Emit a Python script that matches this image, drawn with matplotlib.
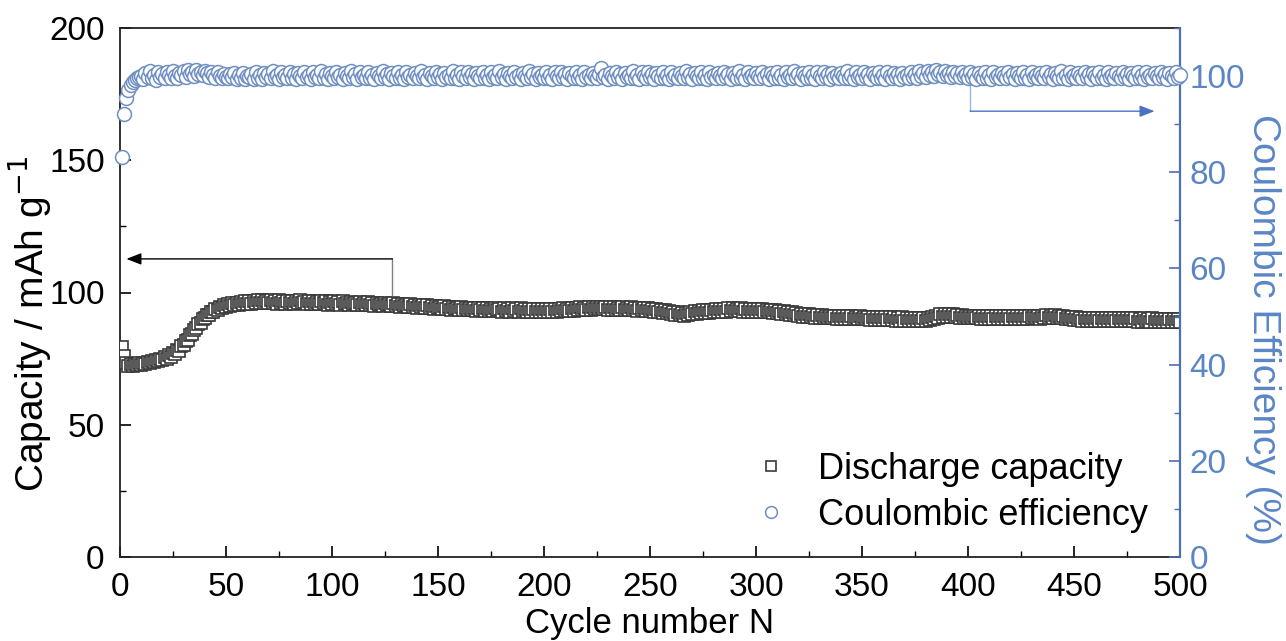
import matplotlib
matplotlib.use("Agg")
import matplotlib.pyplot as plt
from matplotlib.ticker import MultipleLocator

plt.rcParams['font.family'] = ['Liberation Sans', 'DejaVu Sans']

# ---------------- data ----------------
cycles = list(range(1, 501))

capacity = [
    79.5, 76.0, 73.2, 72.4, 72.9, 72.1, 73.0, 72.5, 73.3, 72.6,
    73.5, 72.9, 73.8, 73.2, 74.2, 73.6, 74.6, 74.0, 75.0, 74.4,
    75.6, 75.0, 76.4, 75.8, 77.3, 76.7, 78.4, 78.0, 79.8, 80.2,
    81.7, 82.1, 83.9, 84.3, 86.0, 86.4, 88.1, 88.4, 89.9, 90.3,
    91.5, 91.6, 92.8, 92.6, 93.8, 93.4, 94.6, 94.0, 95.1, 94.5,
    95.5, 94.8, 95.9, 95.1, 96.2, 95.3, 96.4, 95.5, 96.6, 95.7,
    96.8, 95.8, 96.9, 95.9, 97.0, 96.0, 97.1, 95.9, 96.9, 96.2,
    97.2, 96.0, 96.8, 95.8, 97.0, 96.1, 96.7, 95.7, 96.9, 96.0,
    96.6, 95.6, 96.8, 95.9, 97.1, 96.0, 96.5, 95.6, 96.9, 95.8,
    96.7, 95.7, 96.4, 95.5, 96.8, 95.9, 96.6, 95.4, 96.5, 95.7,
    96.8, 95.6, 96.3, 95.4, 96.6, 95.5, 96.2, 95.3, 96.5, 95.6,
    96.1, 95.2, 96.4, 95.4, 96.0, 95.1, 96.3, 95.3, 95.9, 95.0,
    96.2, 95.2, 95.8, 94.9, 96.0, 95.1, 95.7, 94.8, 95.9, 95.0,
    95.6, 94.7, 95.8, 94.8, 95.4, 94.5, 95.6, 94.6, 95.3, 94.3,
    95.4, 94.4, 95.1, 94.1, 95.2, 94.2, 94.9, 93.9, 95.0, 94.0,
    94.7, 93.8, 94.8, 93.8, 94.5, 93.5, 94.6, 93.6, 94.3, 93.3,
    94.4, 93.4, 94.2, 93.2, 94.3, 93.3, 94.1, 93.1, 94.2, 93.2,
    94.0, 93.0, 94.1, 93.1, 93.9, 92.9, 94.2, 93.2, 93.8, 92.8,
    94.1, 93.1, 93.9, 92.8, 94.0, 93.0, 93.7, 92.7, 94.0, 92.9,
    93.8, 92.7, 93.9, 92.8, 93.6, 92.6, 93.9, 92.8, 93.7, 92.6,
    93.8, 92.7, 93.6, 92.6, 93.9, 92.8, 93.7, 92.9, 94.0, 92.9,
    93.9, 93.0, 94.2, 93.1, 94.0, 93.2, 94.4, 93.3, 94.2, 93.4,
    94.5, 93.5, 94.4, 93.6, 94.7, 93.7, 94.5, 93.6, 94.6, 93.5,
    94.4, 93.4, 94.6, 93.5, 94.3, 93.3, 94.5, 93.4, 94.2, 93.2,
    94.4, 93.3, 94.1, 93.1, 94.3, 93.2, 94.0, 93.0, 94.1, 92.9,
    93.9, 92.8, 93.7, 92.6, 93.5, 92.4, 93.3, 92.2, 93.0, 91.9,
    92.8, 91.6, 92.5, 91.4, 92.3, 91.2, 92.2, 91.4, 92.6, 91.8,
    92.9, 92.0, 93.1, 92.1, 93.2, 92.2, 93.4, 92.4, 93.5, 92.5,
    93.6, 92.6, 93.8, 92.7, 93.9, 92.8, 94.0, 92.9, 94.0, 92.9,
    93.9, 92.9, 94.0, 92.8, 93.9, 92.8, 93.8, 92.8, 93.9, 92.7,
    93.7, 92.7, 93.8, 92.6, 93.5, 92.5, 93.4, 92.3, 93.2, 92.1,
    93.0, 91.9, 92.9, 91.8, 92.7, 91.6, 92.5, 91.4, 92.3, 91.2,
    92.0, 90.9, 91.9, 90.8, 91.7, 90.6, 91.6, 90.5, 91.5, 90.4,
    91.4, 90.3, 91.3, 90.2, 91.2, 90.2, 91.1, 90.1, 91.2, 90.1,
    91.1, 90.0, 91.0, 90.0, 91.1, 89.9, 90.9, 89.9, 91.0, 89.8,
    90.9, 89.8, 90.8, 89.7, 90.9, 89.7, 90.7, 89.6, 90.8, 89.6,
    90.7, 89.5, 90.6, 89.5, 90.7, 89.4, 90.5, 89.4, 90.6, 89.3,
    90.5, 89.3, 90.4, 89.2, 90.5, 89.2, 90.3, 89.2, 90.4, 89.3,
    90.5, 89.5, 90.8, 90.0, 91.3, 90.5, 91.7, 90.7, 91.8, 90.8,
    91.8, 90.7, 91.7, 90.6, 91.5, 90.5, 91.4, 90.4, 91.3, 90.3,
    91.2, 90.2, 91.3, 90.2, 91.1, 90.1, 91.2, 90.1, 91.1, 90.0,
    91.2, 90.1, 91.0, 90.0, 91.1, 90.0, 91.0, 89.9, 91.1, 90.0,
    91.0, 90.0, 91.1, 90.1, 91.2, 90.1, 91.1, 90.0, 91.2, 90.2,
    91.3, 90.2, 91.2, 90.1, 91.3, 90.3, 91.4, 90.3, 91.3, 90.2,
    91.4, 90.4, 91.3, 90.2, 91.1, 90.0, 90.9, 89.8, 90.7, 89.6,
    90.6, 89.5, 90.5, 89.4, 90.4, 89.3, 90.4, 89.3, 90.3, 89.3,
    90.4, 89.3, 90.3, 89.2, 90.4, 89.3, 90.2, 89.2, 90.3, 89.2,
    90.2, 89.1, 90.3, 89.2, 90.2, 89.1, 90.3, 89.1, 90.2, 89.0,
    90.1, 89.0, 90.2, 89.1, 90.1, 89.0, 90.2, 89.0, 90.1, 88.9,
    90.0, 88.9, 90.1, 89.0, 90.0, 88.9, 90.1, 88.9, 90.0, 88.8,
]

coulombic_eff = [
    83.2, 92.1, 95.4, 97.1, 98.1, 98.7, 99.2, 99.5, 99.8, 100.0,
    99.4, 100.6, 99.8, 101.0, 99.6, 100.3, 99.2, 100.8, 99.9, 100.5,
    99.5, 100.9, 100.2, 99.7, 101.1, 100.0, 99.6, 100.7, 100.3, 101.0,
    99.9, 101.2, 100.4, 100.8, 100.1, 101.3, 100.5, 100.9, 100.2, 101.0,
    100.6, 99.8, 100.9, 100.3, 99.7, 100.8, 100.1, 99.6, 100.5, 99.9,
    99.5, 100.4, 99.8, 100.7, 99.4, 100.2, 99.7, 100.6, 99.3, 100.1,
    99.8, 100.5, 99.4, 100.9, 99.6, 100.2, 99.3, 100.7, 99.9, 100.4,
    99.5, 101.0, 99.8, 100.3, 99.4, 100.8, 99.9, 100.2, 99.5, 100.9,
    99.7, 100.4, 99.3, 100.6, 100.0, 99.5, 100.9, 99.8, 100.3, 99.4,
    100.8, 99.9, 100.2, 99.5, 101.0, 99.7, 100.4, 99.3, 100.6, 100.0,
    99.6, 100.9, 99.8, 100.3, 99.4, 100.7, 100.1, 99.5, 101.0, 99.8,
    100.4, 99.3, 100.8, 99.9, 100.2, 99.6, 100.9, 99.7, 100.3, 99.4,
    100.6, 100.0, 99.5, 101.0, 99.8, 100.4, 99.3, 100.7, 100.1, 99.6,
    100.9, 99.7, 100.3, 99.4, 100.8, 99.9, 100.2, 99.5, 100.6, 100.0,
    99.6, 101.0, 99.8, 100.3, 99.4, 100.7, 100.1, 99.5, 100.9, 99.8,
    100.4, 99.3, 100.6, 99.9, 100.2, 99.6, 101.0, 99.7, 100.3, 99.4,
    100.8, 100.0, 99.5, 100.9, 99.8, 100.4, 99.3, 100.7, 100.1, 99.6,
    100.9, 99.7, 100.3, 99.4, 100.8, 99.9, 100.2, 99.5, 101.0, 99.8,
    100.4, 99.3, 100.6, 100.0, 99.6, 100.9, 99.8, 100.3, 99.4, 100.7,
    100.1, 99.5, 101.0, 99.8, 100.4, 99.3, 100.6, 99.9, 100.2, 99.6,
    100.9, 99.7, 100.3, 99.4, 100.8, 100.0, 99.5, 100.9, 99.8, 100.4,
    99.3, 100.7, 100.1, 99.6, 100.9, 99.7, 100.3, 99.4, 100.8, 99.9,
    100.2, 99.5, 100.6, 100.0, 99.6, 100.4, 101.6, 99.8, 100.3, 99.4,
    100.7, 100.1, 99.5, 100.9, 99.8, 100.4, 99.3, 100.6, 99.9, 100.2,
    99.6, 101.0, 99.7, 100.3, 99.4, 100.8, 100.0, 99.5, 100.9, 99.8,
    100.4, 99.3, 100.7, 100.1, 99.6, 100.9, 99.7, 100.3, 99.4, 100.8,
    99.9, 100.2, 99.5, 100.6, 100.0, 99.6, 101.0, 99.8, 100.4, 99.3,
    100.7, 100.1, 99.5, 100.9, 99.7, 100.3, 99.4, 100.8, 99.9, 100.2,
    99.6, 100.6, 100.0, 99.5, 100.9, 99.8, 100.4, 99.3, 100.7, 100.1,
    99.6, 101.0, 99.7, 100.3, 99.4, 100.8, 99.9, 100.2, 99.5, 100.6,
    100.0, 99.6, 100.9, 99.8, 100.4, 99.3, 100.7, 100.1, 99.5, 100.9,
    99.7, 100.3, 99.4, 100.8, 99.9, 100.2, 99.6, 101.0, 99.8, 100.4,
    99.3, 100.6, 100.0, 99.5, 100.9, 99.7, 100.3, 99.4, 100.8, 100.1,
    99.6, 100.9, 99.8, 100.4, 99.3, 100.7, 99.9, 100.2, 99.5, 100.6,
    100.0, 99.6, 101.0, 99.7, 100.3, 99.4, 100.8, 99.9, 100.2, 99.5,
    100.9, 99.8, 100.4, 99.3, 100.6, 100.1, 99.6, 100.9, 99.7, 100.3,
    99.4, 100.8, 100.0, 99.5, 100.7, 99.8, 100.4, 99.3, 100.6, 99.9,
    100.2, 99.6, 100.9, 99.8, 100.5, 99.7, 101.0, 100.1, 100.6, 99.9,
    101.1, 100.3, 100.8, 100.0, 101.2, 100.4, 100.9, 100.1, 101.0, 100.2,
    100.7, 99.9, 100.9, 100.1, 100.6, 99.8, 100.8, 100.0, 100.5, 99.7,
    100.9, 99.8, 100.4, 99.3, 100.7, 100.1, 99.6, 100.9, 99.7, 100.3,
    99.4, 100.8, 99.9, 100.2, 99.5, 100.6, 100.0, 99.6, 100.9, 99.8,
    100.4, 99.3, 100.7, 100.1, 99.5, 100.9, 99.7, 100.3, 99.4, 100.8,
    99.9, 100.2, 99.6, 100.6, 100.0, 99.5, 100.9, 99.8, 100.4, 99.3,
    100.7, 100.1, 99.6, 101.0, 99.7, 100.3, 99.4, 100.8, 99.9, 100.2,
    99.5, 100.6, 100.0, 99.6, 100.9, 99.8, 100.4, 99.3, 100.7, 100.1,
    99.5, 100.9, 99.7, 100.3, 99.4, 100.8, 99.9, 100.2, 99.6, 100.6,
    100.0, 99.5, 100.9, 99.8, 100.4, 99.3, 100.7, 100.1, 99.6, 100.9,
    99.7, 100.3, 99.4, 100.8, 99.9, 100.2, 99.5, 100.6, 100.0, 99.6,
    100.9, 99.8, 100.4, 99.3, 100.7, 100.1, 99.6, 100.8, 99.9, 100.2,
]

x_ticks = [0, 50, 100, 150, 200, 250, 300, 350, 400, 450, 500]
cap_ticks = [0, 50, 100, 150, 200]
ce_ticks = [0, 20, 40, 60, 80, 100]

# arrow annotation anchors (data units)
cap_arrow = dict(x_start=128.5, y_low=99.1, y_level=112.7, x_tip=3.0)
ce_arrow = dict(x_start=401.0, y_high=98.5, y_level=92.7, x_tip=488.0)

# ---------------- style ----------------
BLUE_AX = '#4a6fb3'
BLUE_LBL = '#5b86c6'
BLUE_MK = '#6f8fc2'
GRAY_MK = '#3a3a3a'

fig = plt.figure(figsize=(12.86, 6.41), dpi=100)
ax = fig.add_axes([120/1286, 1-557/641, 1060/1286, 529/641])
ax2 = ax.twinx()

ax.plot(cycles, capacity, linestyle='none', marker='s', markersize=8.5,
        markerfacecolor='white', markeredgecolor=GRAY_MK, markeredgewidth=1.2,
        label='Discharge capacity', zorder=3)
ax2.plot(cycles, coulombic_eff, linestyle='none', marker='o', markersize=10,
         markerfacecolor='white', markeredgecolor=BLUE_MK, markeredgewidth=1.1,
         label='Coulombic efficiency', clip_on=False, zorder=3)

ax.set_xlim(0, 500)
ax.set_ylim(0, 200)
ax2.set_ylim(0, 110)

ax.set_xticks(x_ticks)
ax.xaxis.set_minor_locator(MultipleLocator(25))
ax.set_yticks(cap_ticks)
ax.yaxis.set_minor_locator(MultipleLocator(25))
ax2.set_yticks(ce_ticks)
ax2.yaxis.set_minor_locator(MultipleLocator(10))

ax.tick_params(axis='both', which='major', direction='in', length=8, width=1.2,
               labelsize=24, colors='black')
ax.tick_params(axis='both', which='minor', direction='in', length=4, width=1.0)
ax.tick_params(axis='x', which='major', pad=11)
ax.tick_params(axis='y', which='major', pad=11)
ax2.tick_params(axis='y', which='major', direction='in', length=8, width=1.2,
                labelsize=24, colors=BLUE_AX, labelcolor=BLUE_LBL, pad=7)
ax2.tick_params(axis='y', which='minor', direction='in', length=4, width=1.0,
                colors=BLUE_AX)

for s in ['left', 'bottom', 'top']:
    ax.spines[s].set_linewidth(1.3)
    ax.spines[s].set_color('#222222')
ax2.spines['right'].set_color(BLUE_AX)
ax2.spines['right'].set_linewidth(1.6)
ax2.spines['left'].set_visible(False)
ax2.spines['top'].set_visible(False)
ax2.spines['bottom'].set_visible(False)
ax.spines['right'].set_visible(False)

ax.set_xlabel('Cycle number N', fontsize=25, labelpad=3)
ax.set_ylabel('Capacity / mAh g$^{\u22121}$', fontsize=28)
ax.yaxis.label.set_va('center')
ax.yaxis.label.set_ha('center')
ax.yaxis.set_label_coords(-0.085, 0.44)
ax2.set_ylabel('Coulombic Efficiency (%)', fontsize=28, color=BLUE_LBL,
               rotation=270)
ax2.yaxis.label.set_va('center')
ax2.yaxis.label.set_ha('center')
ax2.yaxis.set_label_coords(1.078, 0.43)

# arrows
ax.plot([cap_arrow['x_start'], cap_arrow['x_start']],
        [cap_arrow['y_low'], cap_arrow['y_level']], color='#808080', lw=1.0, zorder=2)
ax.annotate('', xy=(cap_arrow['x_tip'], cap_arrow['y_level']),
            xytext=(cap_arrow['x_start'], cap_arrow['y_level']),
            arrowprops=dict(arrowstyle='-|>,head_length=0.9,head_width=0.35',
                            color='#808080', lw=1.0, fc='black', ec='black',
                            shrinkA=0, shrinkB=0))
ax2.plot([ce_arrow['x_start'], ce_arrow['x_start']],
         [ce_arrow['y_high'], ce_arrow['y_level']], color='#9fb4dc', lw=1.0, zorder=2)
ax2.annotate('', xy=(ce_arrow['x_tip'], ce_arrow['y_level']),
             xytext=(ce_arrow['x_start'], ce_arrow['y_level']),
             arrowprops=dict(arrowstyle='-|>,head_length=0.9,head_width=0.35',
                             color='#9fb4dc', lw=1.0, fc='#4a72c4', ec='#4a72c4',
                             shrinkA=0, shrinkB=0))

# legend
h1, l1 = ax.get_legend_handles_labels()
h2, l2 = ax2.get_legend_handles_labels()
leg = ax2.legend(h1 + h2, l1 + l2, loc='lower right',
                 bbox_to_anchor=(0.987, 0.012), frameon=False, fontsize=26,
                 handlelength=1.0, handletextpad=0.8, labelspacing=0.3,
                 borderpad=0, markerscale=0.85)

fig.savefig('out.png', dpi=100)
